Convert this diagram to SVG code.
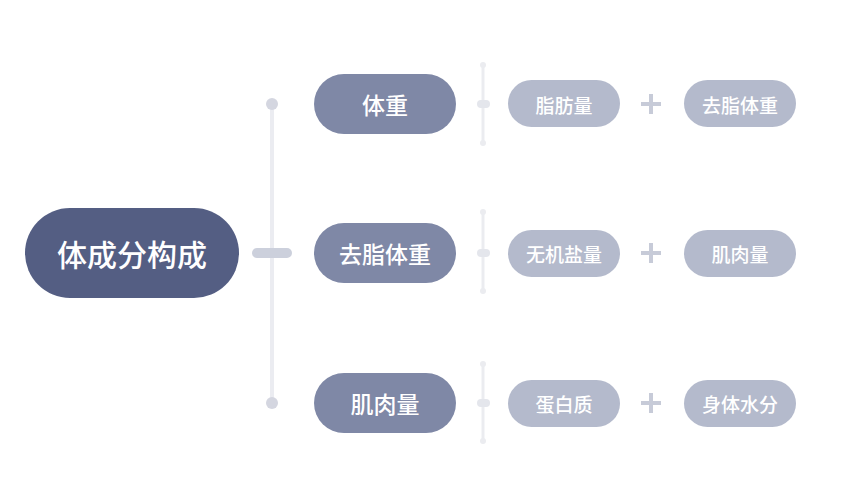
<svg xmlns="http://www.w3.org/2000/svg" width="849" height="496" viewBox="0 0 849 496">
<style>
text{font-family:"Noto Sans CJK SC",sans-serif;fill:#fff;text-anchor:middle;dominant-baseline:central;font-weight:500}
.mid rect{fill:#7f88a6}.mid text{font-size:23px}
.leaf rect{fill:#b4bacc}.leaf text{font-size:19px}
.ln{stroke:#ebecf0;stroke-width:3}
.dot{fill:#ebecf0}
.plus{stroke:#c7cbd8;stroke-width:4}
</style>
<rect width="849" height="496" fill="#fff"/>
<g id="connectors">
<line x1="272" y1="103" x2="272" y2="403" stroke="#ebecf1" stroke-width="4"/>
<circle cx="272" cy="104" r="6" fill="#d4d6e0"/>
<circle cx="272" cy="403" r="6" fill="#d4d6e0"/>
<rect x="252" y="248" width="40" height="10" rx="5" fill="#ccd0dc"/>
<g id="s1"><line class="ln" x1="483" y1="65" x2="483" y2="143"/><circle class="dot" cx="483" cy="65" r="3"/><circle class="dot" cx="483" cy="143" r="3"/><rect x="477" y="100" width="13" height="8" rx="4" fill="#e4e6ec"/></g>
<g><line class="ln" x1="483" y1="212" x2="483" y2="291"/><circle class="dot" cx="483" cy="212" r="3"/><circle class="dot" cx="483" cy="291" r="3"/><rect x="477" y="249" width="13" height="8" rx="4" fill="#e4e6ec"/></g>
<g><line class="ln" x1="483" y1="364" x2="483" y2="441"/><circle class="dot" cx="483" cy="364" r="3"/><circle class="dot" cx="483" cy="441" r="3"/><rect x="477" y="399" width="13" height="8" rx="4" fill="#e4e6ec"/></g>
<path class="plus" d="M641 104h20M651 94v20M641 253h20M651 243v20M641 403h20M651 393v20"/>
</g>
<g id="root"><rect x="25" y="208" width="214" height="90" rx="45" fill="#545e83"/><text x="132" y="253" font-size="30">体成分构成</text></g>
<g id="n1" class="mid"><rect x="314" y="74" width="142" height="60" rx="30"/><text x="385" y="104">体重</text></g>
<g id="n2" class="mid"><rect x="314" y="223" width="142" height="60" rx="30"/><text x="385" y="253">去脂体重</text></g>
<g id="n3" class="mid"><rect x="314" y="373" width="142" height="60" rx="30"/><text x="385" y="403">肌肉量</text></g>
<g id="l1" class="leaf"><rect x="508" y="80" width="112" height="47" rx="23.5"/><text x="564" y="104">脂肪量</text></g>
<g id="l2" class="leaf"><rect x="684" y="80" width="112" height="47" rx="23.5"/><text x="740" y="104">去脂体重</text></g>
<g id="l3" class="leaf"><rect x="508" y="230" width="112" height="47" rx="23.5"/><text x="564" y="253">无机盐量</text></g>
<g id="l4" class="leaf"><rect x="684" y="230" width="112" height="47" rx="23.5"/><text x="740" y="253">肌肉量</text></g>
<g id="l5" class="leaf"><rect x="508" y="380" width="112" height="47" rx="23.5"/><text x="564" y="403">蛋白质</text></g>
<g id="l6" class="leaf"><rect x="684" y="380" width="112" height="47" rx="23.5"/><text x="740" y="403">身体水分</text></g>
</svg>
